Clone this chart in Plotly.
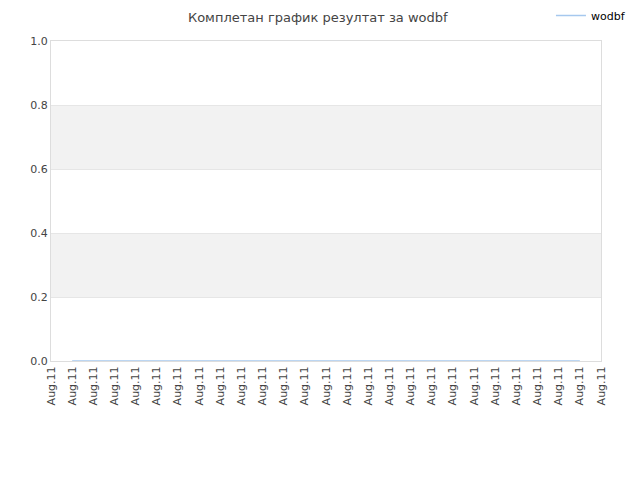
import plotly.graph_objects as go

series_name = 'wodbf'
tick_labels = ['Aug.11'] * 27
x_values = list(range(1, 26))
y_values = [0] * 25
band_ranges = [(0.2, 0.4), (0.6, 0.8)]

fig = go.Figure()
fig.add_trace(go.Scatter(
    x=x_values, y=y_values, mode='lines', name=series_name,
    line=dict(color='#a6c8ee', width=1.5)))

for lo, hi in band_ranges:
    fig.add_shape(type='rect', xref='paper', yref='y', x0=0, x1=1, y0=lo, y1=hi,
                  fillcolor='#f2f2f2', line_width=0, layer='below')

# page body has an 8px margin, so offsets are shifted to compensate
fig.update_layout(
    width=640, height=480,
    margin=dict(l=43, r=47, t=33, b=127, autoexpand=False),
    plot_bgcolor='white', paper_bgcolor='white',
    font=dict(family='DejaVu Sans', size=11, color='#444'),
    title=dict(text='Комплетан график резултат за wodbf', x=0.484, xanchor='center',
               y=0.99, yanchor='top', font=dict(size=13, color='#444')),
    showlegend=True,
    legend=dict(x=0.909, y=1.125, xanchor='left', yanchor='top', itemwidth=30,
                font=dict(size=11, color='#000'), bgcolor='rgba(0,0,0,0)'),
)
fig.update_xaxes(
    range=[0, 26], tickmode='array', tickvals=list(range(27)), ticktext=tick_labels,
    tickangle=-90, showgrid=False, zeroline=False, showline=True, mirror=True,
    linecolor='#dddddd', linewidth=1, ticks='', tickfont=dict(size=11, color='#444'))
fig.update_yaxes(
    range=[0, 1], dtick=0.2, tickformat='.1f', showgrid=True, gridcolor='#e6e6e6',
    zeroline=False, showline=True, mirror=True, linecolor='#dddddd', linewidth=1,
    ticks='', tickfont=dict(size=11, color='#444'))

fig.write_html('out.html')
